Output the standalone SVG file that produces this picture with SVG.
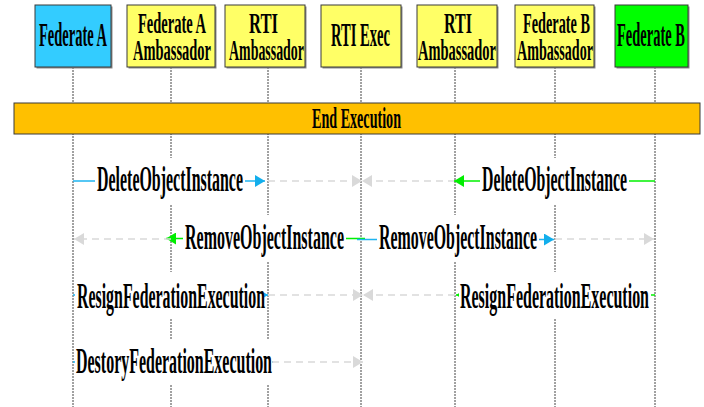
<svg xmlns="http://www.w3.org/2000/svg" width="704" height="407" viewBox="0 0 704 407">
  <style>
    .box { stroke: #3a3a3a; stroke-width: 1; }
    .shadow { fill: #8a8a8a; }
    .fedA { fill: #33CCFF; }
    .amb { fill: #FFFF66; }
    .fedB { fill: #00FF00; }
    .life { stroke: #444; stroke-width: 1; stroke-dasharray: 2 1; fill: none; }
    .hdr { font-family: "Liberation Serif", "Times New Roman", serif; font-weight: bold; fill: #000; }
    .msg { font-family: "Liberation Serif", "Times New Roman", serif; font-weight: bold; font-size: 35px; fill: #000; }
    .lblbg { fill: #fff; }
    .blue { stroke: #1EB4F0; stroke-width: 1.5; fill: none; marker-end: url(#ah-blue); }
    .green { stroke: #00F000; stroke-width: 1.5; fill: none; marker-end: url(#ah-green); }
    .gray { stroke: #D9D9D9; stroke-width: 1.5; stroke-dasharray: 7 5; fill: none; marker-end: url(#ah-gray); }
  </style>
  <defs>
    <marker id="ah-blue" viewBox="0 0 10 12" refX="10" refY="6" markerWidth="10" markerHeight="12" markerUnits="userSpaceOnUse" orient="auto">
      <path d="M0,0 L10,6 L0,12 z" fill="#12AEEC"/>
    </marker>
    <marker id="ah-green" viewBox="0 0 10 12" refX="10" refY="6" markerWidth="10" markerHeight="12" markerUnits="userSpaceOnUse" orient="auto">
      <path d="M0,0 L10,6 L0,12 z" fill="#00EE00"/>
    </marker>
    <marker id="ah-gray" viewBox="0 0 10 12" refX="10" refY="6" markerWidth="10" markerHeight="12" markerUnits="userSpaceOnUse" orient="auto">
      <path d="M0,0 L10,6 L0,12 z" fill="#D9D9D9"/>
    </marker>
  </defs>

  <rect width="704" height="407" fill="#fff"/>

  <!-- lifelines -->
  <g id="lifelines">
    <line class="life" x1="73" y1="67" x2="73" y2="407"/>
    <line class="life" x1="171" y1="67" x2="171" y2="407"/>
    <line class="life" x1="268" y1="67" x2="268" y2="407"/>
    <line class="life" x1="361" y1="67" x2="361" y2="407"/>
    <line class="life" x1="455" y1="67" x2="455" y2="407"/>
    <line class="life" x1="555" y1="67" x2="555" y2="407"/>
    <line class="life" x1="655" y1="67" x2="655" y2="407"/>
  </g>

  <!-- End Execution bar -->
  <g id="end-execution">
    <rect x="14" y="103" width="686" height="31" fill="#FFC000" stroke="#3a3a3a" stroke-width="1"/>
    <text class="hdr" x="312" y="128" font-size="30" textLength="89" lengthAdjust="spacingAndGlyphs">End Execution</text>
  </g>

  <!-- messages -->
  <g id="connectors">
    <!-- row 1 -->
    <line class="blue" x1="73" y1="181" x2="265" y2="181"/>
    <line class="gray" x1="268" y1="181" x2="362" y2="181"/>
    <line class="gray" x1="455" y1="181" x2="362" y2="181"/>
    <line class="green" x1="655" y1="181" x2="454" y2="181"/>
    <!-- row 2 -->
    <line class="green" x1="365" y1="238.5" x2="166" y2="238.5"/>
    <line class="gray" x1="171" y1="239" x2="74" y2="239"/>
    <line class="blue" x1="357" y1="239.5" x2="554" y2="239.5"/>
    <line class="gray" x1="555" y1="239" x2="654" y2="239"/>
    <!-- row 3 -->
    <line class="blue" x1="73" y1="295" x2="268" y2="295"/>
    <line class="gray" x1="268" y1="295" x2="363" y2="295"/>
    <line class="gray" x1="455" y1="295" x2="363" y2="295"/>
    <line class="green" x1="655" y1="295" x2="456" y2="295"/>
    <!-- row 4 -->
    <line class="blue" x1="73" y1="362" x2="273" y2="362"/>
    <line class="gray" x1="272" y1="362" x2="363" y2="362"/>
  </g>

  <!-- message labels -->
  <g id="labels">
    <rect class="lblbg" x="95" y="158" width="150" height="46"/>
    <text class="msg" x="97" y="191" textLength="146" lengthAdjust="spacingAndGlyphs">DeleteObjectInstance</text>
    <rect class="lblbg" x="480" y="158" width="149" height="46"/>
    <text class="msg" x="482" y="191" textLength="145" lengthAdjust="spacingAndGlyphs">DeleteObjectInstance</text>

    <rect class="lblbg" x="183" y="215" width="163" height="47"/>
    <text class="msg" x="185" y="249" textLength="159" lengthAdjust="spacingAndGlyphs">RemoveObjectInstance</text>
    <rect class="lblbg" x="377" y="215" width="162" height="47"/>
    <text class="msg" x="379" y="249" textLength="158" lengthAdjust="spacingAndGlyphs">RemoveObjectInstance</text>

    <rect class="lblbg" x="75" y="272" width="189" height="46"/>
    <text class="msg" x="77" y="308" textLength="188" lengthAdjust="spacingAndGlyphs">ResignFederationExecution</text>
    <rect class="lblbg" x="459" y="272" width="192" height="46"/>
    <text class="msg" x="460" y="308" textLength="189" lengthAdjust="spacingAndGlyphs">ResignFederationExecution</text>

    <rect class="lblbg" x="75" y="339" width="197" height="46"/>
    <text class="msg" x="76" y="373" textLength="196" lengthAdjust="spacingAndGlyphs">DestoryFederationExecution</text>
  </g>

  <!-- participants -->
  <g id="federate-a">
    <rect class="shadow" x="36.5" y="6.5" width="76" height="62"/>
    <rect class="box fedA" x="35" y="5" width="76" height="62"/>
    <text class="hdr" x="39" y="46" font-size="33" textLength="68" lengthAdjust="spacingAndGlyphs">Federate A</text>
  </g>
  <g id="federate-a-ambassador">
    <rect class="shadow" x="128.5" y="6.5" width="88" height="62"/>
    <rect class="box amb" x="127" y="5" width="88" height="62"/>
    <text class="hdr" x="138" y="33" font-size="30" textLength="68" lengthAdjust="spacingAndGlyphs">Federate A</text>
    <text class="hdr" x="133" y="60" font-size="30" textLength="78" lengthAdjust="spacingAndGlyphs">Ambassador</text>
  </g>
  <g id="rti-ambassador-a">
    <rect class="shadow" x="226.5" y="6.5" width="80" height="62"/>
    <rect class="box amb" x="225" y="5" width="80" height="62"/>
    <text class="hdr" x="249" y="33" font-size="30" textLength="29" lengthAdjust="spacingAndGlyphs">RTI</text>
    <text class="hdr" x="229" y="60" font-size="30" textLength="75" lengthAdjust="spacingAndGlyphs">Ambassador</text>
  </g>
  <g id="rti-exec">
    <rect class="shadow" x="322.5" y="6.5" width="80" height="62"/>
    <rect class="box amb" x="321" y="5" width="80" height="62"/>
    <text class="hdr" x="331" y="46" font-size="33" textLength="59" lengthAdjust="spacingAndGlyphs">RTI Exec</text>
  </g>
  <g id="rti-ambassador-b">
    <rect class="shadow" x="418.5" y="6.5" width="80" height="62"/>
    <rect class="box amb" x="417" y="5" width="80" height="62"/>
    <text class="hdr" x="444" y="33" font-size="30" textLength="28" lengthAdjust="spacingAndGlyphs">RTI</text>
    <text class="hdr" x="418" y="60" font-size="30" textLength="78" lengthAdjust="spacingAndGlyphs">Ambassador</text>
  </g>
  <g id="federate-b-ambassador">
    <rect class="shadow" x="516.5" y="6.5" width="79" height="62"/>
    <rect class="box amb" x="515" y="5" width="79" height="62"/>
    <text class="hdr" x="523" y="33" font-size="30" textLength="67" lengthAdjust="spacingAndGlyphs">Federate B</text>
    <text class="hdr" x="517" y="60" font-size="30" textLength="76" lengthAdjust="spacingAndGlyphs">Ambassador</text>
  </g>
  <g id="federate-b">
    <rect class="shadow" x="616.5" y="6.5" width="73" height="62"/>
    <rect class="box fedB" x="615" y="5" width="73" height="62"/>
    <text class="hdr" x="617" y="46" font-size="33" textLength="68" lengthAdjust="spacingAndGlyphs">Federate B</text>
  </g>
</svg>
